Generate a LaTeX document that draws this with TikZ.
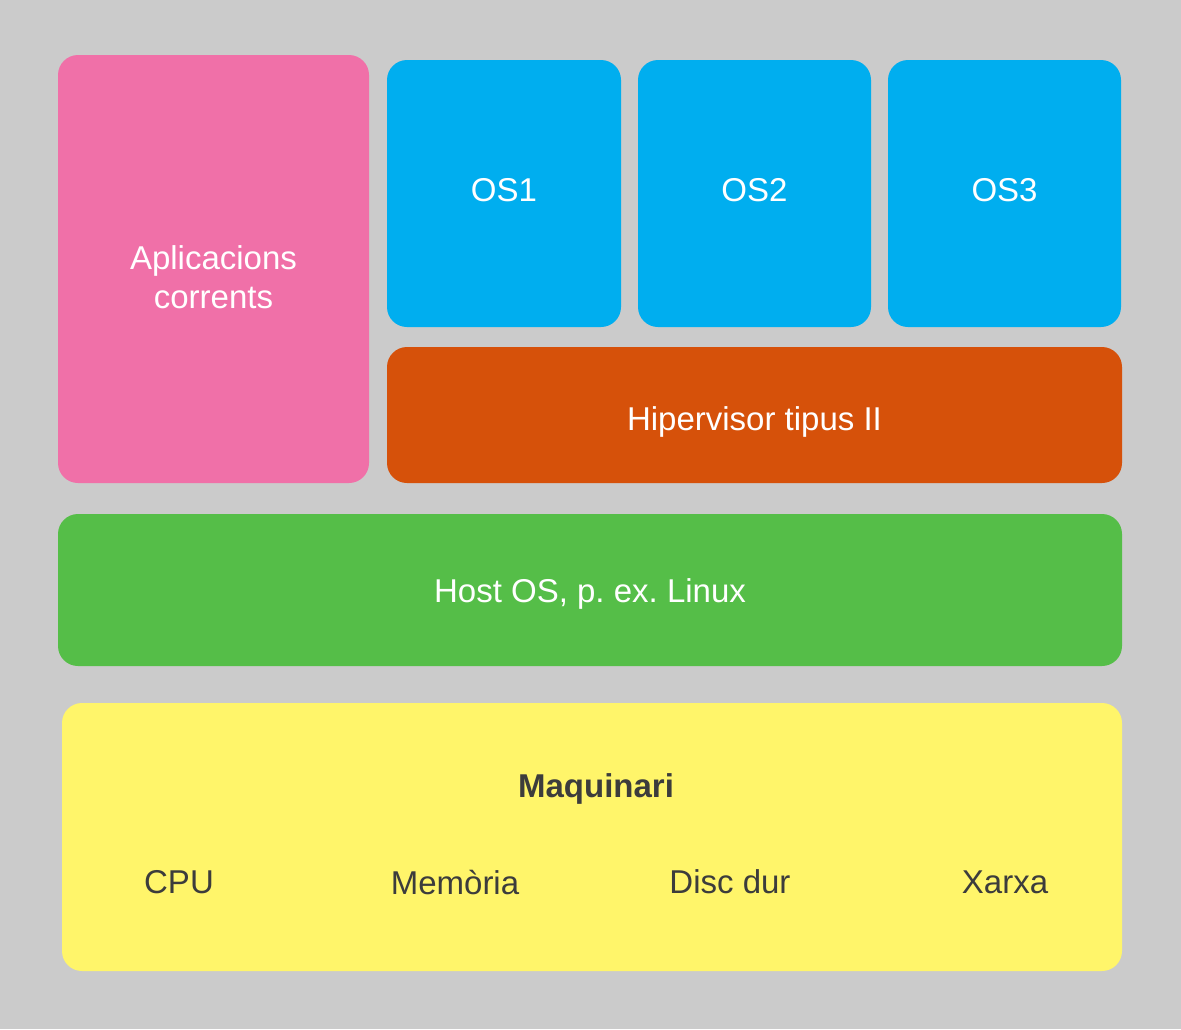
\documentclass[tikz,border=0pt]{standalone}
\usepackage{fontspec}
\setmainfont{Liberation Sans}
\frenchspacing
\definecolor{bgc}{HTML}{CBCBCB}
\definecolor{pinkc}{HTML}{F070A8}
\definecolor{bluec}{HTML}{00AEEF}
\definecolor{orangec}{HTML}{D6510A}
\definecolor{greenc}{HTML}{55BE48}
\definecolor{yellowc}{HTML}{FFF56A}
\definecolor{darktext}{HTML}{3C3C3C}
\tikzset{
  layer/.style={rounded corners=10pt, inner sep=0pt, align=center, text=white,
    font=\fontsize{16.5}{19.5}\selectfont},
  hwtext/.style={text=darktext, font=\fontsize{16.5}{19.5}\selectfont}
}
\begin{document}
\begin{tikzpicture}[x=0.5pt,y=-0.5pt]
\fill[bgc] (0,0) rectangle (1181,1029);
\useasboundingbox (0,0) rectangle (1181,1029);
\node[layer, fill=pinkc, minimum width=155.5pt, minimum height=214pt] (apps) at (213.5,269) {};
\node[layer] (appstext) at (213.5,277) {Aplicacions\\corrents};
\node[layer, fill=bluec, minimum width=117pt, minimum height=133.5pt] (os1) at (504,193.5) {};
\node[layer, fill=bluec, minimum width=116.5pt, minimum height=133.5pt] (os2) at (754.5,193.5) {};
\node[layer, fill=bluec, minimum width=116.5pt, minimum height=133.5pt] (os3) at (1004.5,193.5) {};
\node[layer] (os1t) at (504,190) {OS1};
\node[layer] (os2t) at (754.5,190) {OS2};
\node[layer] (os3t) at (1004.5,190) {OS3};
\node[layer, fill=orangec, minimum width=367.5pt, minimum height=68pt] (hyp) at (754.5,415) {};
\node[layer] (hypt) at (754.5,422) {Hipervisor tipus II};
\node[layer, fill=greenc, minimum width=532pt, minimum height=76pt] (host) at (590,590) {};
\node[layer] (hostt) at (590,594) {Host OS, p. ex. Linux};
\node[layer, fill=yellowc, minimum width=530pt, minimum height=134pt] (hw) at (592,837) {};
\node[hwtext, font=\fontsize{16.5}{19.5}\selectfont\bfseries] (maq) at (596,789) {Maquinari};
\node[hwtext] (cpu) at (179,882) {CPU};
\node[hwtext] (mem) at (455,882) {Memòria};
\node[hwtext] (disc) at (730,882) {Disc dur};
\node[hwtext] (net) at (1005,882) {Xarxa};
\end{tikzpicture}
\end{document}
